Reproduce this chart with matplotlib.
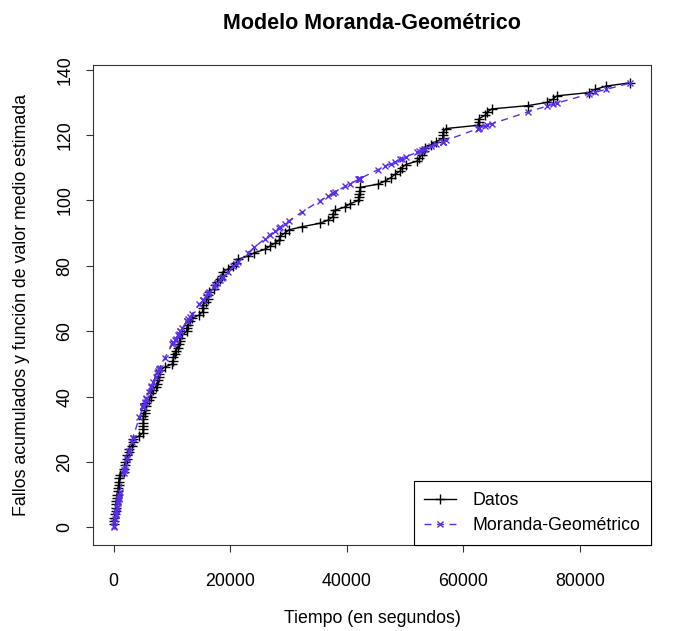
import matplotlib
matplotlib.use("Agg")
import matplotlib.pyplot as plt

plt.rcParams['font.family'] = ['Liberation Sans', 'DejaVu Sans']

# Tiempos acumulados de fallo (segundos)
tiempo = [3, 33, 146, 227, 342, 351, 353, 444, 556, 571, 709, 759, 836, 860, 968, 1056,
          1726, 1846, 1872, 1986, 2311, 2366, 2608, 2676, 3098, 3278, 3288, 4434, 5034,
          5049, 5085, 5089, 5089, 5097, 5324, 5389, 5565, 5623, 6080, 6380, 6477, 6740,
          7192, 7447, 7644, 7837, 7843, 7922, 8738, 10089, 10237, 10258, 10491, 10625,
          10982, 11175, 11411, 11442, 11811, 12559, 12559, 12791, 13121, 13486, 14708,
          15251, 15261, 15277, 15806, 16185, 16229, 16358, 17168, 17458, 17758, 18287,
          18568, 18728, 19556, 20567, 21012, 21308, 23063, 24127, 25910, 26770, 27753,
          28460, 28493, 29361, 30085, 32408, 35338, 36799, 37642, 37654, 37915, 39715,
          40580, 42015, 42045, 42188, 42296, 42296, 45406, 46653, 47596, 48296, 49171,
          49416, 50145, 52042, 52489, 52875, 53321, 53443, 54433, 55381, 56463, 56485,
          56560, 57042, 62551, 62651, 62661, 63732, 64103, 64893, 71043, 74364, 75409,
          76057, 81542, 82702, 84566, 88682]

# Fallos acumulados
fallos = [1, 2, 3, 4, 5, 6, 7, 8, 9, 10, 11, 12, 13, 14, 15, 16, 17, 18, 19, 20,
          21, 22, 23, 24, 25, 26, 27, 28, 29, 30, 31, 32, 33, 34, 35, 36, 37, 38, 39, 40,
          41, 42, 43, 44, 45, 46, 47, 48, 49, 50, 51, 52, 53, 54, 55, 56, 57, 58, 59, 60,
          61, 62, 63, 64, 65, 66, 67, 68, 69, 70, 71, 72, 73, 74, 75, 76, 77, 78, 79, 80,
          81, 82, 83, 84, 85, 86, 87, 88, 89, 90, 91, 92, 93, 94, 95, 96, 97, 98, 99, 100,
          101, 102, 103, 104, 105, 106, 107, 108, 109, 110, 111, 112, 113, 114, 115, 116,
          117, 118, 119, 120, 121, 122, 123, 124, 125, 126, 127, 128, 129, 130, 131, 132,
          133, 134, 135, 136]

# Funcion de valor medio estimada (Moranda-Geometrico) en cada tiempo de fallo
mu_estimada = [0.04, 0.38, 1.67, 2.58, 3.82, 3.92, 3.94, 4.90, 6.05, 6.20, 7.57, 8.06,
               8.79, 9.02, 10.03, 10.83, 16.48, 17.42, 17.62, 18.48, 20.86, 21.25, 22.92,
               23.38, 26.11, 27.22, 27.28, 33.74, 36.76, 36.83, 37.01, 37.03, 37.03, 37.06,
               38.15, 38.45, 39.26, 39.53, 41.55, 42.84, 43.24, 44.32, 46.11, 47.09, 47.83,
               48.55, 48.57, 48.85, 51.72, 56.08, 56.53, 56.59, 57.29, 57.68, 58.72, 59.27,
               59.94, 60.02, 61.04, 63.02, 63.02, 63.62, 64.46, 65.36, 68.25, 69.48, 69.50,
               69.53, 70.69, 71.50, 71.59, 71.86, 73.53, 74.11, 74.70, 75.73, 76.26, 76.56,
               78.09, 79.87, 80.64, 81.14, 83.99, 85.62, 88.23, 89.43, 90.77, 91.70, 91.74,
               92.85, 93.77, 96.56, 99.83, 101.37, 102.23, 102.25, 102.51, 104.29, 105.11,
               106.45, 106.48, 106.61, 106.71, 106.71, 109.45, 110.50, 111.28, 111.85,
               112.54, 112.74, 113.31, 114.76, 115.09, 115.38, 115.71, 115.80, 116.52,
               117.20, 117.96, 117.97, 118.02, 118.36, 122.00, 122.06, 122.07, 122.74,
               122.96, 123.45, 127.05, 128.87, 129.42, 129.77, 132.55, 133.12, 134.01,
               135.92]

x_ticks = [0, 20000, 40000, 60000, 80000]
y_ticks = [0, 20, 40, 60, 80, 100, 120, 140]

azul = '#5a2ee6'
fs = 12.8

fig = plt.figure(figsize=(6.75, 6.31), dpi=100)
ax = fig.add_axes([93 / 675, 1 - 545 / 631, 558 / 675, 480 / 631])

ax.plot(tiempo, fallos, '-', color='black', linewidth=1, marker='+',
        markersize=6.5, markeredgewidth=1, label='Datos')
ax.plot(tiempo, mu_estimada, color=azul, linewidth=1, linestyle=(0, (5, 4)),
        marker='x', markersize=5, markeredgewidth=1, label='Moranda-Geométrico')

ax.margins(x=0.04, y=0.04)
ax.set_xticks(x_ticks)
ax.set_yticks(y_ticks)
ax.set_xticklabels([str(v) for v in x_ticks])
ax.set_yticklabels([str(v) for v in y_ticks], rotation=90, va='center')
ax.tick_params(axis='both', direction='out', length=5, width=0.8, labelsize=fs,
               color='#333333')
ax.tick_params(axis='x', pad=15)
ax.tick_params(axis='y', pad=9)
for s in ax.spines.values():
    s.set_linewidth(0.8)
    s.set_color('#333333')

ax.set_title('Modelo Moranda-Geométrico', fontsize=15.5, fontweight='bold', pad=26)
ax.set_xlabel('Tiempo (en segundos)', fontsize=fs, labelpad=14.5)
ax.set_ylabel('Fallos acumulados y función de valor medio estimada', fontsize=fs,
              labelpad=19)

leg = ax.legend(loc='lower right', borderaxespad=0, fancybox=False, framealpha=1,
                edgecolor='black', fontsize=fs, handlelength=1.8, handletextpad=0.9,
                borderpad=0.6, labelspacing=0.47)
leg.get_frame().set_linewidth(0.8)

fig.savefig('out.png', dpi=100)
